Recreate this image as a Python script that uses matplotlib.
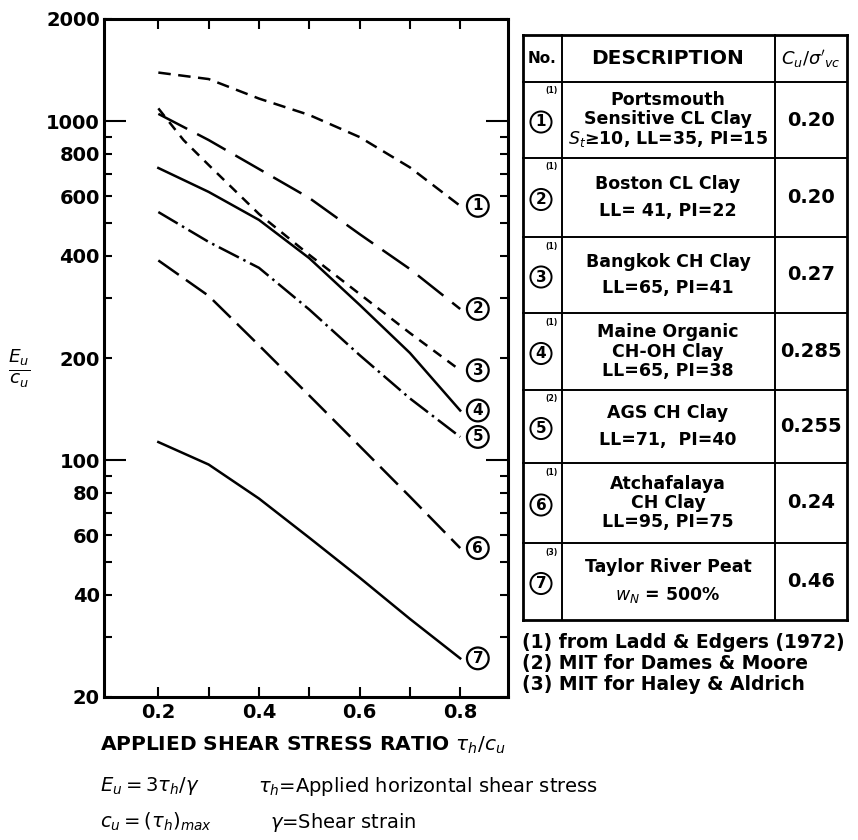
import matplotlib
matplotlib.use("Agg")

import matplotlib.pyplot as plt
from matplotlib.lines import Line2D

plt.rcParams['font.family'] = ['DejaVu Sans']
plt.rcParams['mathtext.fontset'] = 'dejavusans'

# shear stress ratio tau_h/c_u and modulus ratio E_u/c_u for each soil
ratio = [0.2, 0.3, 0.4, 0.5, 0.6, 0.7, 0.8]
portsmouth = [1390, 1330, 1165, 1042, 897, 730, 562]
boston = [1050, 879, 722, 593, 464, 366, 279]
bangkok_ratio = [0.2, 0.25, 0.3, 0.4, 0.5, 0.6, 0.7, 0.8]
bangkok = [1090, 879, 742, 532, 403, 309, 237, 184]
maine = [727, 618, 511, 394, 287, 207, 140]
ags = [539, 440, 369, 278, 204, 152, 117]
atchafalaya = [388, 305, 218, 155, 110, 78, 55]
taylor = [113, 97, 77, 59, 45, 34, 26]

y_labelled = [20, 40, 60, 80, 200, 400, 600, 800, 2000]
y_minor = [30, 50, 70, 90, 300, 500, 700, 900]
x_ticks = [0.2, 0.4, 0.6, 0.8]
x_minor = [0.3, 0.5, 0.7]

# table contents
soil_no = ["1", "2", "3", "4", "5", "6", "7"]
source_ref = ["(1)", "(1)", "(1)", "(1)", "(2)", "(1)", "(3)"]
descriptions = [
    "Portsmouth\nSensitive CL Clay\n$S_t$≥10, LL=35, PI=15",
    "Boston CL Clay\nLL= 41, PI=22",
    "Bangkok CH Clay\nLL=65, PI=41",
    "Maine Organic\nCH-OH Clay\nLL=65, PI=38",
    "AGS CH Clay\nLL=71,  PI=40",
    "Atchafalaya\nCH Clay\nLL=95, PI=75",
    "Taylor River Peat\n$w_N$ = 500%",
]
cu_ratio = ["0.20", "0.20", "0.27", "0.285", "0.255", "0.24", "0.46"]
footnotes = [
    "(1) from Ladd & Edgers (1972)",
    "(2) MIT for Dames & Moore",
    "(3) MIT for Haley & Aldrich",
]

W, H = 858, 840


def fx(px):
    return px / W


def fy(py):
    return 1 - py / H


fig = plt.figure(figsize=(W / 100, H / 100), dpi=100)
ax = fig.add_axes([fx(104), fy(697), fx(508) - fx(104), fy(19) - fy(697)])

lw = 1.8
curves = [
    (ratio, portsmouth, (5, 3)),
    (ratio, boston, (13, 4.5)),
    (bangkok_ratio, bangkok, (4, 3)),
    (ratio, maine, None),
    (ratio, ags, (9, 2, 1, 2)),
    (ratio, atchafalaya, (10, 3.5)),
    (ratio, taylor, None),
]
for i, (xs, ys, dash) in enumerate(curves):
    line, = ax.plot(xs, ys, color='black', lw=lw)
    if dash is not None:
        line.set_dashes(dash)
    ax.text(0.835, ys[-1], soil_no[i], ha='center', va='center', fontsize=11,
            fontweight='bold',
            bbox=dict(boxstyle='circle,pad=0.22', fc='white', ec='black', lw=1.6))

ax.set_yscale('log')
ax.set_xlim(0.092, 0.895)
ax.set_ylim(20, 2000)
ax.set_yticks([100, 1000], labels=["100", "1000"])
ax.set_yticks(y_minor + y_labelled,
              labels=[""] * len(y_minor) + [str(v) for v in y_labelled],
              minor=True)
ax.set_xticks(x_ticks, labels=[str(v) for v in x_ticks])
ax.set_xticks(x_minor, minor=True)
ax.tick_params(axis='y', which='major', direction='in', length=16, width=1.5,
               labelsize=14, right=True, pad=3)
ax.tick_params(axis='y', which='minor', direction='in', length=6, width=1.5,
               labelsize=14, right=True, pad=3)
ax.tick_params(axis='x', which='both', direction='in', length=7, width=1.5,
               labelsize=14, top=True, pad=4)
for lab in ax.get_xticklabels() + ax.get_yticklabels() + ax.get_yticklabels(minor=True):
    lab.set_fontweight('bold')
for sp in ax.spines.values():
    sp.set_linewidth(2.2)

fig.text(fx(8), fy(368), r'$\frac{E_u}{c_u}$', fontsize=19, va='center')

# axis caption and symbol definitions
fig.text(fx(100), fy(745), r'APPLIED SHEAR STRESS RATIO $\tau_h/c_u$',
         fontsize=14.5, fontweight='bold', va='center')
fig.text(fx(100), fy(786), r'$E_u = 3\tau_h/\gamma$', fontsize=14, va='center')
fig.text(fx(258), fy(786), r'$\tau_h$=Applied horizontal shear stress', fontsize=14, va='center')
fig.text(fx(100), fy(822), r'$c_u = (\tau_h)_{max}$', fontsize=14, va='center')
fig.text(fx(270), fy(822), r'$\gamma$=Shear strain', fontsize=14, va='center')

# table of soils
col_x = [523, 562, 775, 847]
row_y = [35, 82, 158, 237, 313, 390, 463, 543, 620]


def hline(py, x0, x1, w):
    fig.add_artist(Line2D([fx(x0), fx(x1)], [fy(py), fy(py)], color='black', lw=w))


def vline(px, y0, y1, w):
    fig.add_artist(Line2D([fx(px), fx(px)], [fy(y0), fy(y1)], color='black', lw=w))


for k, py in enumerate(row_y):
    hline(py, col_x[0], col_x[-1], 2.0 if k in (0, len(row_y) - 1) else 1.4)
for k, px in enumerate(col_x):
    vline(px, row_y[0], row_y[-1], 2.0 if k in (0, len(col_x) - 1) else 1.4)

hy = (row_y[0] + row_y[1]) / 2
fig.text(fx(542), fy(hy), "No.", fontsize=11, fontweight='bold', ha='center', va='center')
fig.text(fx(668), fy(hy), "DESCRIPTION", fontsize=14.5, fontweight='bold', ha='center', va='center')
fig.text(fx(811), fy(hy), r"$C_u/\sigma'_{vc}$", fontsize=13, ha='center', va='center')

for i in range(len(soil_no)):
    top, bot = row_y[i + 1], row_y[i + 2]
    mid = (top + bot) / 2
    nlines = descriptions[i].count("\n") + 1
    fig.text(fx(541), fy(mid + 2), soil_no[i], fontsize=11, fontweight='bold',
             ha='center', va='center',
             bbox=dict(boxstyle='circle,pad=0.2', fc='white', ec='black', lw=1.4))
    fig.text(fx(551), fy(top + 9), source_ref[i], fontsize=5.5, fontweight='bold',
             ha='center', va='center')
    fig.text(fx(668), fy(mid), descriptions[i], fontsize=12.5, fontweight='bold',
             ha='center', va='center', linespacing=1.1 if nlines == 3 else 1.6)
    fig.text(fx(811), fy(mid), cu_ratio[i], fontsize=14, fontweight='bold',
             ha='center', va='center')

for k, note in enumerate(footnotes):
    fig.text(fx(522), fy(643 + 21 * k), note, fontsize=13.5, fontweight='bold', va='center')

fig.savefig("out.png", dpi=100, facecolor='white')
